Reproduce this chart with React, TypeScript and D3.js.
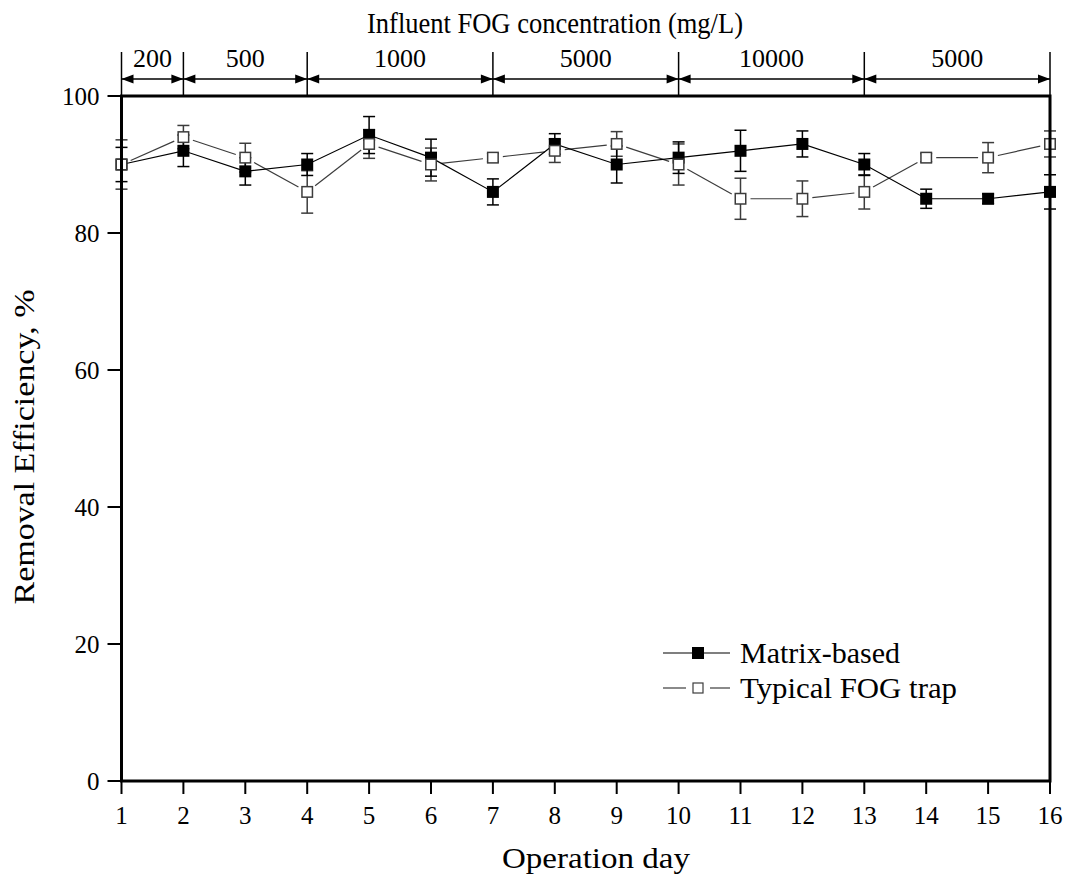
import React from 'react';
import * as d3 from 'd3';

const days = [1, 2, 3, 4, 5, 6, 7, 8, 9, 10, 11, 12, 13, 14, 15, 16];
const matrixValues = [90, 92, 89, 90, 94.3, 91, 86, 93, 90, 91, 92, 93, 90, 85, 85, 86];
const matrixErrors = [2.5, 2.3, 2.0, 1.6, 2.7, 2.7, 1.9, 1.5, 2.7, 2.3, 3.0, 1.9, 1.6, 1.4, 0.7, 2.5];
const trapValues = [90, 94, 91, 86, 93, 90, 91, 92, 93, 90, 85, 85, 86, 91, 91, 93];
const trapErrors = [3.6, 1.7, 2.1, 3.1, 2.1, 2.4, 0.6, 1.7, 1.8, 3.0, 3.0, 2.6, 2.5, 0.6, 2.2, 1.9];
const yTicks = [0, 20, 40, 60, 80, 100];
const phaseBounds = [1, 2, 4, 7, 10, 13, 16];
const phaseLabels = ['200', '500', '1000', '5000', '10000', '5000'];

const FONT = '"Liberation Serif", "Times New Roman", serif';
const GRAY = '#3c3c3c';

export default function App() {
  const x = d3.scaleLinear().domain([1, 16]).range([121.5, 1050]);
  const y = d3.scaleLinear().domain([0, 100]).range([781, 96]);
  const [x0, x1] = x.range();
  const [yb, yt] = y.range();

  const matrixLine = d3.line<number>().x((_, i) => x(days[i])).y((v) => y(v))(matrixValues) || '';

  const gap = 10;
  const trapSegs = days.slice(0, -1).map((d, i) => {
    const ax = x(d), ay = y(trapValues[i]);
    const bx = x(days[i + 1]), by = y(trapValues[i + 1]);
    const len = Math.hypot(bx - ax, by - ay);
    const ux = (bx - ax) / len, uy = (by - ay) / len;
    return { x1: ax + ux * gap, y1: ay + uy * gap, x2: bx - ux * gap, y2: by - uy * gap };
  });

  const ms = 12;
  const cap = 6;
  const arrowY = 79;

  return (
    <svg width={1071} height={886} style={{ position: 'absolute', left: 0, top: 0, background: '#fff' }} fontFamily={FONT}>
      <rect x={0} y={0} width={1071} height={886} fill="#fff" />

      {/* title */}
      <text x={555} y={33} fontSize={29} textAnchor="middle" textLength={376} lengthAdjust="spacingAndGlyphs">
        Influent FOG concentration (mg/L)
      </text>

      {/* phase annotation */}
      {phaseBounds.map((b, i) => (
        <line key={'pb' + i} x1={x(b)} x2={x(b)} y1={52} y2={yt} stroke="#000" strokeWidth={1.5} />
      ))}
      {phaseLabels.map((lab, i) => {
        const a = x(phaseBounds[i]);
        const b = x(phaseBounds[i + 1]);
        return (
          <g key={'ph' + i}>
            <line x1={a} x2={b} y1={arrowY} y2={arrowY} stroke="#000" strokeWidth={1.5} />
            <polygon points={`${a},${arrowY} ${a + 12},${arrowY - 4.5} ${a + 12},${arrowY + 4.5}`} fill="#000" />
            <polygon points={`${b},${arrowY} ${b - 12},${arrowY - 4.5} ${b - 12},${arrowY + 4.5}`} fill="#000" />
            <text x={(a + b) / 2} y={67} fontSize={26} textAnchor="middle">{lab}</text>
          </g>
        );
      })}

      {/* y ticks */}
      {yTicks.map((t) => (
        <g key={'yt' + t}>
          <line x1={x0 - 14} x2={x0} y1={y(t)} y2={y(t)} stroke="#000" strokeWidth={2} />
          <text x={x0 - 22} y={y(t) + 8.5} fontSize={25} textAnchor="end">{t}</text>
        </g>
      ))}
      {/* x ticks */}
      {days.map((d) => (
        <g key={'xt' + d}>
          <line x1={x(d)} x2={x(d)} y1={yb} y2={yb + 13} stroke="#000" strokeWidth={2} />
          <text x={x(d)} y={824} fontSize={25} textAnchor="middle">{d}</text>
        </g>
      ))}

      {/* axis titles */}
      <text x={596} y={868} fontSize={29} textAnchor="middle" textLength={188} lengthAdjust="spacingAndGlyphs">
        Operation day
      </text>
      <text
        transform={`translate(34, ${447}) rotate(-90)`}
        fontSize={29}
        textAnchor="middle"
        textLength={315}
        lengthAdjust="spacingAndGlyphs"
      >
        Removal Efficiency, %
      </text>

      {/* error bars: trap */}
      {days.map((d, i) => {
        const cx = x(d);
        const top = y(trapValues[i] + trapErrors[i]);
        const bot = y(trapValues[i] - trapErrors[i]);
        return (
          <g key={'te' + d} stroke={GRAY} strokeWidth={1.5}>
            <line x1={cx} x2={cx} y1={top} y2={bot} />
            <line x1={cx - cap} x2={cx + cap} y1={top} y2={top} />
            <line x1={cx - cap} x2={cx + cap} y1={bot} y2={bot} />
          </g>
        );
      })}
      {/* error bars: matrix */}
      {days.map((d, i) => {
        const cx = x(d);
        const top = y(matrixValues[i] + matrixErrors[i]);
        const bot = y(matrixValues[i] - matrixErrors[i]);
        return (
          <g key={'me' + d} stroke="#000" strokeWidth={1.5}>
            <line x1={cx} x2={cx} y1={top} y2={bot} />
            <line x1={cx - cap} x2={cx + cap} y1={top} y2={top} />
            <line x1={cx - cap} x2={cx + cap} y1={bot} y2={bot} />
          </g>
        );
      })}

      {/* lines */}
      {trapSegs.map((s, i) => (
        <line key={'ts' + i} {...s} stroke={GRAY} strokeWidth={1.2} />
      ))}
      <path d={matrixLine} fill="none" stroke="#000" strokeWidth={1.2} />

      {/* markers */}
      {days.map((d, i) => (
        <rect key={'mm' + d} x={x(d) - ms / 2} y={y(matrixValues[i]) - ms / 2} width={ms} height={ms} fill="#000" />
      ))}
      {days.map((d, i) => (
        <rect
          key={'tm' + d}
          x={x(d) - ms / 2 + 0.75}
          y={y(trapValues[i]) - ms / 2 + 0.75}
          width={ms - 1.5}
          height={ms - 1.5}
          fill="#fff"
          stroke={GRAY}
          strokeWidth={1.5}
        />
      ))}

      {/* frame */}
      <rect x={x0} y={yt} width={x1 - x0} height={yb - yt} fill="none" stroke="#000" strokeWidth={3} />

      {/* legend */}
      <g>
        <line x1={663} x2={730} y1={653} y2={653} stroke="#000" strokeWidth={1.2} />
        <rect x={698 - ms / 2} y={653 - ms / 2} width={ms} height={ms} fill="#000" />
        <text x={740} y={663} fontSize={29} textLength={160} lengthAdjust="spacingAndGlyphs">Matrix-based</text>
        <line x1={663} x2={686} y1={688} y2={688} stroke={GRAY} strokeWidth={1.2} />
        <line x1={710} x2={730} y1={688} y2={688} stroke={GRAY} strokeWidth={1.2} />
        <rect x={698 - 5} y={688 - 5} width={10} height={10} fill="#fff" stroke={GRAY} strokeWidth={1.2} />
        <text x={740} y={698} fontSize={29} textLength={217} lengthAdjust="spacingAndGlyphs">Typical FOG trap</text>
      </g>
    </svg>
  );
}
